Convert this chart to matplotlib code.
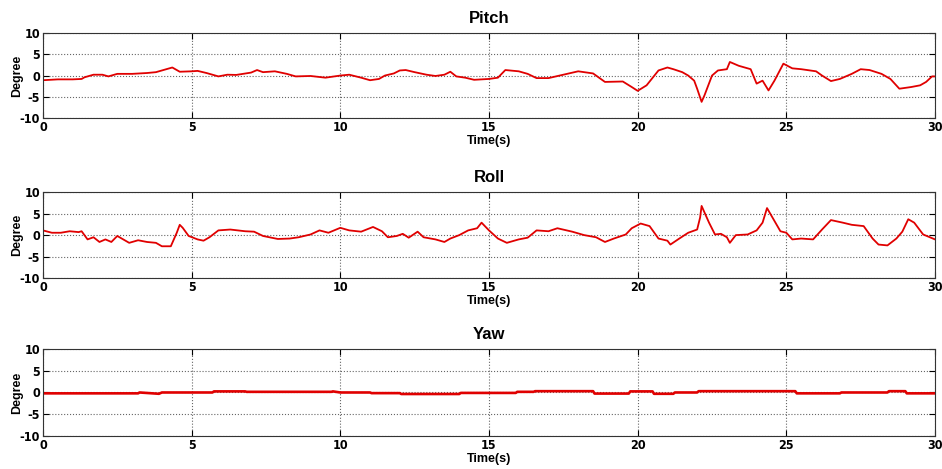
"""Pitch / roll / yaw attitude traces over a 30 s window."""

import matplotlib
matplotlib.use("Agg")
import matplotlib.pyplot as plt
from matplotlib import font_manager

# Pitch (deg)
pitch_t = [0, 0.5, 1, 1.3, 1.4, 1.7, 2, 2.2, 2.5, 3, 3.5, 3.8, 4, 4.35, 4.6, 5, 5.2, 5.5,
           5.9, 6.2, 6.5, 7, 7.2, 7.4, 7.8, 8.2, 8.5, 9, 9.5, 10, 10.3, 10.7, 11, 11.3,
           11.5, 11.8, 12, 12.2, 12.5, 12.9, 13.2, 13.5, 13.7, 13.9, 14.2, 14.5, 15,
           15.3, 15.55, 16, 16.3, 16.6, 17, 17.5, 18, 18.5, 18.9, 19.5, 19.8, 20, 20.3,
           20.7, 21, 21.2, 21.5, 21.7, 21.9, 22, 22.15, 22.25, 22.5, 22.7, 23, 23.1,
           23.4, 23.8, 24, 24.2, 24.4, 24.6, 24.9, 25.2, 25.5, 26, 26.2, 26.5, 26.8,
           27.2, 27.5, 27.8, 28.2, 28.5, 28.8, 29.2, 29.5, 29.7, 29.9, 30]
pitch_v = [-1.1, -0.9, -0.9, -0.8, -0.4, 0.2, 0.2, -0.2, 0.4, 0.4, 0.6, 0.8, 1.2, 1.9,
           0.9, 1.0, 1.1, 0.6, -0.2, 0.2, 0.15, 0.7, 1.3, 0.8, 1.0, 0.4, -0.2, -0.1,
           -0.5, 0.0, 0.2, -0.5, -1.1, -0.8, 0.0, 0.5, 1.2, 1.3, 0.8, 0.2, -0.1, 0.2,
           0.9, -0.2, -0.5, -1.0, -0.8, -0.5, 1.3, 1.0, 0.4, -0.6, -0.6, 0.2, 1.0, 0.5,
           -1.5, -1.4, -2.7, -3.6, -2.3, 1.2, 1.9, 1.5, 0.8, 0.0, -1.2, -3.1, -6.2,
           -4.6, 0.0, 1.2, 1.5, 3.2, 2.3, 1.5, -1.9, -1.2, -3.5, -1.2, 2.8, 1.7, 1.5,
           1.0, 0.0, -1.3, -0.8, 0.4, 1.5, 1.3, 0.4, -0.8, -3.1, -2.7, -2.3, -1.5,
           -0.2, -0.2]

# Roll (deg)
roll_t = [0, 0.3, 0.6, 0.9, 1.2, 1.3, 1.5, 1.7, 1.9, 2.1, 2.3, 2.5, 2.7, 2.9, 3.2, 3.5,
          3.8, 4.0, 4.3, 4.5, 4.6, 4.7, 4.9, 5.2, 5.4, 5.6, 5.9, 6.3, 6.8, 7.1, 7.4,
          7.9, 8.3, 8.6, 9, 9.3, 9.6, 10, 10.3, 10.7, 11.1, 11.4, 11.6, 11.9, 12.1,
          12.3, 12.6, 12.8, 13.2, 13.5, 13.7, 14, 14.3, 14.6, 14.75, 15, 15.3, 15.6,
          16, 16.3, 16.6, 17, 17.3, 17.8, 18.2, 18.6, 18.9, 19.2, 19.6, 19.8, 20.1,
          20.4, 20.7, 21, 21.1, 21.4, 21.7, 22, 22.1, 22.15, 22.4, 22.6, 22.8, 23,
          23.1, 23.3, 23.7, 24, 24.2, 24.35, 24.5, 24.8, 25, 25.2, 25.5, 25.9, 26.2,
          26.5, 26.9, 27.2, 27.6, 27.9, 28.1, 28.4, 28.7, 28.9, 29.1, 29.3, 29.6, 30]
roll_v = [1.1, 0.55, 0.55, 0.9, 0.7, 0.9, -1.0, -0.5, -1.6, -1.0, -1.6, -0.2, -1.0,
          -1.8, -1.2, -1.6, -1.8, -2.6, -2.6, 0.55, 2.4, 1.7, -0.2, -1.0, -1.3, -0.5,
          1.1, 1.3, 0.9, 0.8, -0.2, -0.9, -0.8, -0.5, 0.15, 1.1, 0.55, 1.7, 1.1, 0.8,
          1.9, 0.9, -0.5, -0.2, 0.3, -0.6, 0.8, -0.5, -1.0, -1.6, -0.8, 0.0, 1.1, 1.6,
          2.9, 1.1, -0.8, -1.8, -1.0, -0.6, 1.1, 0.9, 1.6, 0.8, 0.0, -0.5, -1.6, -0.8,
          0.15, 1.6, 2.7, 2.1, -0.8, -1.3, -2.2, -0.8, 0.55, 1.3, 4.1, 6.8, 2.9, 0.15,
          0.3, -0.5, -1.8, 0.0, 0.15, 1.1, 2.9, 6.3, 4.5, 0.9, 0.55, -1.0, -0.8, -1.0,
          1.3, 3.5, 2.9, 2.4, 2.1, -0.8, -2.2, -2.4, -0.8, 0.8, 3.7, 2.9, 0.15, -1.0]

# Yaw (deg) - nearly flat, small steps only
yaw_t = [0, 3.2, 3.25, 3.9, 4.0, 5.7, 5.75, 6.8, 6.85, 9.7, 9.75, 10.0, 11.0, 11.05,
         12.0, 12.05, 14.0, 14.05, 15.9, 15.95, 16.5, 16.55, 18.5, 18.55, 19.7, 19.75,
         20.5, 20.55, 21.2, 21.25, 22.0, 22.05, 25.3, 25.35, 26.8, 26.85, 28.4, 28.45,
         29.0, 29.05, 30]
yaw_v = [-0.2, -0.2, 0.0, -0.3, 0.0, 0.0, 0.25, 0.25, 0.15, 0.15, 0.25, 0.0, 0.0, -0.15,
         -0.15, -0.35, -0.35, -0.1, -0.1, 0.15, 0.15, 0.3, 0.3, -0.25, -0.25, 0.25,
         0.25, -0.3, -0.3, 0.0, 0.0, 0.3, 0.3, -0.2, -0.2, 0.0, 0.0, 0.3, 0.3, -0.2,
         -0.2]

titles = ["Pitch", "Roll", "Yaw"]
x_ticks = [0, 5, 10, 15, 20, 25, 30]
y_ticks = [-10, -5, 0, 5, 10]

# condensed face for tick labels when one is installed
installed = {(f.name, f.stretch) for f in font_manager.fontManager.ttflist}
tick_font = {"family": ["Liberation Sans", "DejaVu Sans"], "stretch": "normal"}
for name, stretch in installed:
    if name == "DejaVu Sans" and stretch in ("condensed", "semi-condensed"):
        tick_font = {"family": ["DejaVu Sans"], "stretch": "condensed"}

plt.rcParams["font.family"] = ["Liberation Sans", "DejaVu Sans"]
plt.rcParams["font.weight"] = "bold"
plt.rcParams["axes.unicode_minus"] = False

fig = plt.figure(figsize=(9.42, 4.69), dpi=100)

# [left, bottom, width, height] in figure fraction, matched to reference pixels
positions = [
    [0.0456, 0.7484, 0.947, 0.181],
    [0.0456, 0.4072, 0.947, 0.183],
    [0.0456, 0.0704, 0.947, 0.1855],
]
series = [(pitch_t, pitch_v, 1.3), (roll_t, roll_v, 1.3), (yaw_t, yaw_v, 1.9)]

for pos, title, (t, v, lw) in zip(positions, titles, series):
    ax = fig.add_axes(pos)
    ax.plot(t, v, color="#e00000", linewidth=lw)
    ax.set_xlim(0, 30)
    ax.set_ylim(-10, 10)
    ax.set_xticks(x_ticks)
    ax.set_yticks(y_ticks)
    ax.tick_params(direction="in", length=4, width=0.8, labelsize=9,
                   top=True, right=True, pad=2)
    for lab in ax.get_xticklabels() + ax.get_yticklabels():
        lab.set_family(tick_font["family"])
        lab.set_stretch(tick_font["stretch"])
    ax.grid(True, linestyle=":", color="#666666", linewidth=0.8)
    for spine in ax.spines.values():
        spine.set_linewidth(0.8)
        spine.set_color("#333333")
    ax.set_title(title, fontsize=12, fontweight="bold", pad=7)
    ax.set_xlabel("Time(s)", fontsize=9, fontweight="bold", labelpad=1)
    ax.set_ylabel("Degree", fontsize=9, fontweight="bold")
    ax.yaxis.set_label_coords(-0.022, 0.5)

fig.savefig("out.png", dpi=100)
